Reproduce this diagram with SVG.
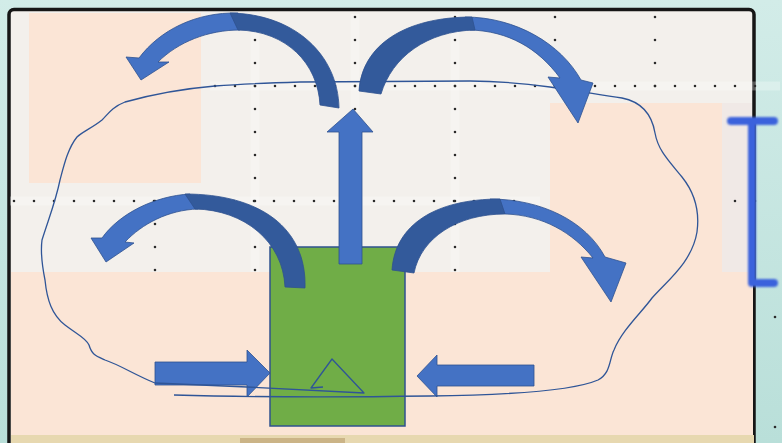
<svg xmlns="http://www.w3.org/2000/svg" width="782" height="443" viewBox="0 0 782 443">
<defs>
<style>
.peach{fill:#fbe5d6}
.dots{stroke:#2b2b2b;stroke-width:2.6;stroke-linecap:round;stroke-dasharray:0 20;fill:none}
.halo{stroke:#ffffff;stroke-opacity:0.28;stroke-width:9;fill:none}
.vdots{stroke:#2b2b2b;stroke-width:2.6;stroke-linecap:round;stroke-dasharray:0 23;fill:none}
.light{fill:#4472c4;stroke:#2f528f;stroke-width:0.8;stroke-linejoin:miter}
.dark{fill:#335a9b;stroke:#2f528f;stroke-width:0.8}
.loop{fill:none;stroke:#2f5597;stroke-width:1.3;stroke-linejoin:round}
</style>
<linearGradient id="topfade" x1="0" y1="0" x2="0" y2="1">
<stop offset="0" stop-color="#d2ece8"/>
<stop offset="1" stop-color="#b9dfd9"/>
</linearGradient>
<filter id="soft" x="-20%" y="-20%" width="140%" height="140%"><feGaussianBlur stdDeviation="0.8"/></filter>
</defs>

<g id="background">
<rect x="0" y="0" width="782" height="443" fill="url(#topfade)"/>
<rect x="9" y="9.5" width="745" height="440" rx="5" fill="#f3f0ec" stroke="#161616" stroke-width="3.5"/>
<rect class="peach" x="29" y="13" width="172" height="170"/>
<rect class="peach" x="550" y="103" width="172" height="170"/>
<rect x="722" y="103" width="30" height="170" fill="#f0e9e6"/>
<rect class="peach" x="11" y="272" width="742" height="163"/>
<rect x="11" y="435" width="743" height="8" fill="#e7d8b0"/>
<rect x="240" y="438" width="105" height="5" fill="#cbb487"/>
</g>

<g id="grid">
<line class="halo" x1="210" y1="86" x2="780" y2="86"/>
<line class="halo" x1="10" y1="201" x2="540" y2="201"/>
<line class="halo" x1="255" y1="14" x2="255" y2="272"/>
<line class="halo" x1="455" y1="14" x2="455" y2="272"/>
<line class="halo" x1="355" y1="14" x2="355" y2="112"/>
<line class="dots" x1="215" y1="86" x2="775" y2="86"/>
<line class="dots" x1="14" y1="201" x2="534" y2="201"/>
<line class="dots" x1="735" y1="201" x2="775" y2="201"/>
<line class="vdots" x1="255" y1="17" x2="255" y2="272"/>
<line class="vdots" x1="455" y1="17" x2="455" y2="272"/>
<line class="vdots" x1="355" y1="17" x2="355" y2="112"/>
<line class="vdots" x1="555" y1="17" x2="555" y2="88"/>
<line class="vdots" x1="655" y1="17" x2="655" y2="88"/>
<line class="vdots" x1="155" y1="201" x2="155" y2="272"/>
<line class="vdots" x1="775" y1="317" x2="775" y2="318"/>
<line class="vdots" x1="775" y1="427" x2="775" y2="428"/>
</g>

<g id="scale-bar" filter="url(#soft)" stroke="#3a62dc" stroke-width="8" stroke-linecap="round" fill="none">
<path d="M731,121 H774 M752,121 V283 M757,283 H774"/>
</g>

<g id="green-box">
<rect x="270" y="247" width="135" height="179" fill="#70ad47" stroke="#2f528f" stroke-width="1.5"/>
</g>

<g id="connectors">
<g id="arrow-in-left">
<path class="light" d="M155,362 H247 V350 L270,373 L247,397 V385 H155 Z"/>
</g>
<g id="arrow-in-right">
<path class="light" d="M534,365 H437 V355 L417,376 L437,397 V386 H534 Z"/>
</g>
<g id="loop">
<path class="loop" d="M174,395 C280,398 360,397 430,396 C510,395 575,390 598,380 C611,373 609,360 614,350 C622,330 642,312 652,298 C668,280 692,262 697,232 C700,210 694,192 682,177 C668,160 658,150 655,133 C652,115 642,102 622,98 C600,95 585,92 550,87 C520,83 500,81 470,81 L300,82 C265,83 240,84 215,86 C180,89 150,95 125,102 C112,107 108,114 102,120 C92,128 82,132 77,137 C68,148 64,165 60,180 C56,200 50,215 42,240 C40,255 43,270 45,280 C47,300 52,315 65,325 C78,335 86,338 89,345 C92,355 96,356 105,360 C120,365 135,375 155,383 L247,387 L364,393 L332,359 L311,388 L323,387"/>
</g>
<g id="arrow-top-left">
<path class="light" d="M238,13 C196,12 160,30 139,58 L126,57 L141,80 L169,62 L158,62 C178,42 208,30 240,30 Z"/>
<path class="dark" d="M230,13 C295,14 338,55 339,108 L320,105 C318,64 287,31 238,30 Z"/>
</g>
<g id="arrow-top-right">
<path class="light" d="M465,17 C516,17 561,44 581,80 L593,83 L578,123 L548,77 L560,78 C538,48 508,31 470,30 Z"/>
<path class="dark" d="M359,91 C362,45 405,17 472,17 L475,30 C427,31 392,57 381,94 Z"/>
</g>
<g id="arrow-mid-left">
<path class="light" d="M190,194 C154,196 119,214 102,238 L91,238 L106,262 L134,243 L125,242 C142,224 168,210 198,209 Z"/>
<path class="dark" d="M305,288 C307,228 260,194 185,194 L195,209 C245,210 283,242 285,287 Z"/>
</g>
<g id="arrow-mid-right">
<path class="light" d="M490,199 C541,199 586,221 605,257 L626,263 L611,302 L581,257 L593,258 C573,233 543,215 505,214 Z"/>
<path class="dark" d="M392,270 C395,225 435,199 500,199 L505,214 C457,214 421,238 414,273 Z"/>
</g>
<g id="arrow-up">
<path class="light" d="M339,264 V132 H327 L353,109 L373,132 H362 V264 Z"/>
</g>
</g>
</svg>
